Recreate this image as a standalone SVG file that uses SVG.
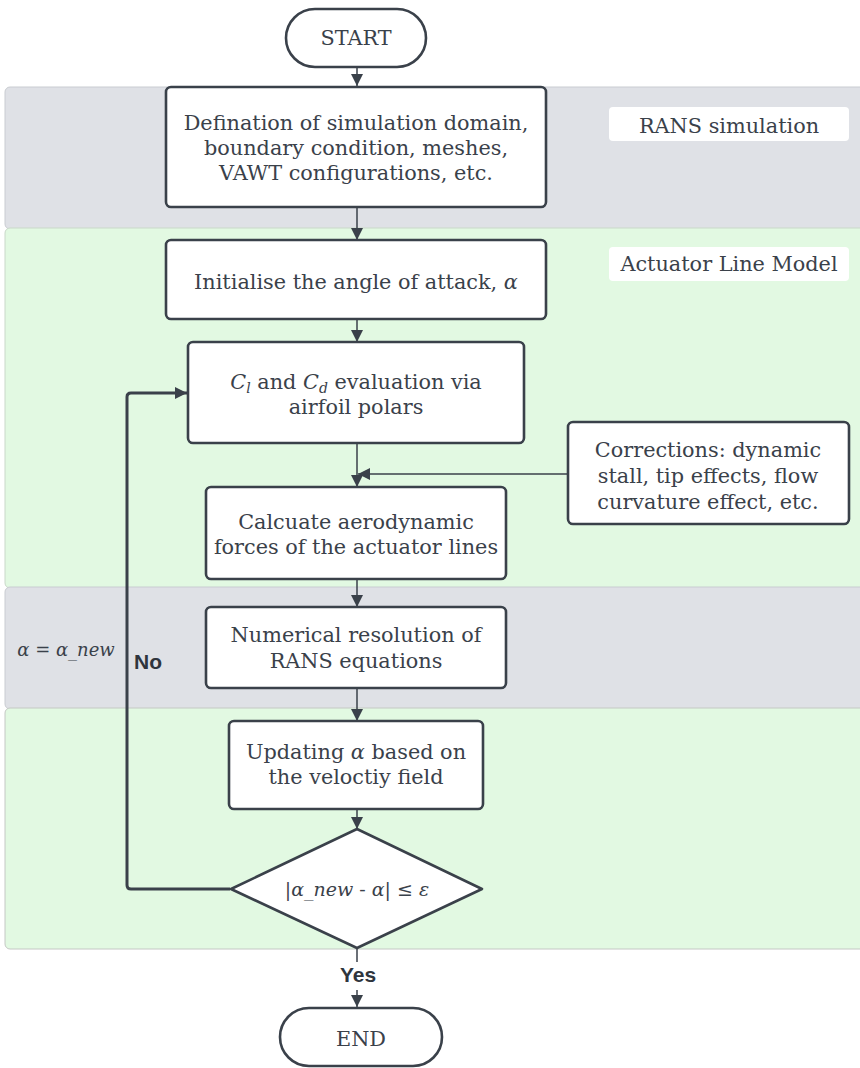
<svg xmlns="http://www.w3.org/2000/svg" width="860" height="1068" viewBox="0 0 860 1068">
<style>
.box{fill:#ffffff;stroke:#3a414a;stroke-width:2.6}
.t{font-family:"DejaVu Serif","Liberation Serif",serif;font-size:20.8px;fill:#3a414a;text-anchor:middle}
.i{font-style:italic}
.lbl{fill:#ffffff;stroke:none}
.c{fill:none;stroke:#3a414a;stroke-width:1.5}
.loop{fill:none;stroke:#3a414a;stroke-width:3;stroke-linejoin:round}
.b{font-family:"Liberation Sans",Arial,sans-serif;font-size:21px;font-weight:bold;fill:#2f353d;text-anchor:middle}
</style>
<defs>
<marker id="ah" markerUnits="userSpaceOnUse" markerWidth="12" markerHeight="14" viewBox="0 0 12 14" refX="12" refY="7" orient="auto">
<path d="M0,1 L12,7 L0,13 Z" fill="#3a414a"/>
</marker>
</defs>
<rect width="860" height="1068" fill="#ffffff"/>
<g id="lanes">
<rect x="5" y="87" width="862" height="142" rx="5" fill="#dfe1e6" stroke="#c9ccd1" stroke-width="1"/>
<rect x="5" y="228" width="862" height="360" rx="5" fill="#e2f9e2" stroke="#c9d8c9" stroke-width="1"/>
<rect x="5" y="587" width="862" height="122" rx="5" fill="#dfe1e6" stroke="#c9ccd1" stroke-width="1"/>
<rect x="5" y="708" width="862" height="241" rx="5" fill="#e2f9e2" stroke="#c4c8c4" stroke-width="1"/>
</g>
<g id="lane-labels">
<rect class="lbl" x="609" y="107" width="240" height="34" rx="4"/>
<text class="t" x="729" y="133">RANS simulation</text>
<rect class="lbl" x="609" y="247" width="240" height="34" rx="4"/>
<text class="t" x="729" y="271">Actuator Line Model</text>
</g>
<g id="connectors">
<line class="c" x1="357" y1="67" x2="357" y2="86" marker-end="url(#ah)"/>
<line class="c" x1="357" y1="207" x2="357" y2="240" marker-end="url(#ah)"/>
<line class="c" x1="357" y1="319" x2="357" y2="342" marker-end="url(#ah)"/>
<line class="c" x1="357" y1="443" x2="357" y2="487" marker-end="url(#ah)"/>
<line class="c" x1="568" y1="474" x2="358" y2="474" marker-end="url(#ah)"/>
<line class="c" x1="357" y1="579" x2="357" y2="607" marker-end="url(#ah)"/>
<line class="c" x1="357" y1="688" x2="357" y2="721" marker-end="url(#ah)"/>
<line class="c" x1="357" y1="809" x2="357" y2="829" marker-end="url(#ah)"/>
<line class="c" x1="357" y1="948" x2="357" y2="962"/>
<line class="c" x1="357" y1="990" x2="357" y2="1007" marker-end="url(#ah)"/>
<path class="loop" d="M230,889 L131,889 Q127,889 127,885 L127,397 Q127,393 131,393 L187,393" marker-end="url(#ah)"/>
<text class="b" x="358" y="982">Yes</text>
<text class="b" x="148" y="669">No</text>
<text class="t i" x="66" y="656" style="font-size:18px">α = α_new</text>
</g>
<g id="start">
<rect class="box" x="286" y="9" width="140" height="58" rx="29"/>
<text class="t" x="356" y="45">START</text>
</g>
<g id="define">
<rect class="box" x="166" y="87" width="380" height="120" rx="5"/>
<text class="t" x="356" y="130">Defination of simulation domain,</text>
<text class="t" x="356" y="155">boundary condition, meshes,</text>
<text class="t" x="356" y="180">VAWT configurations, etc.</text>
</g>
<g id="init">
<rect class="box" x="166" y="240" width="380" height="79" rx="5"/>
<text class="t" x="356" y="289">Initialise the angle of attack, <tspan class="i">α</tspan></text>
</g>
<g id="coeffs">
<rect class="box" x="188" y="342" width="336" height="101" rx="5"/>
<text class="t" x="356" y="389"><tspan class="i">C</tspan><tspan class="i" font-size="14" dy="4">l</tspan><tspan dy="-4"> and </tspan><tspan class="i">C</tspan><tspan class="i" font-size="14" dy="4">d</tspan><tspan dy="-4"> evaluation via</tspan></text>
<text class="t" x="356" y="414">airfoil polars</text>
</g>
<g id="corrections">
<rect class="box" x="568" y="422" width="281" height="102" rx="5"/>
<text class="t" x="708" y="457">Corrections: dynamic</text>
<text class="t" x="708" y="483">stall, tip effects, flow</text>
<text class="t" x="708" y="509">curvature effect, etc.</text>
</g>
<g id="forces">
<rect class="box" x="206" y="487" width="300" height="92" rx="5"/>
<text class="t" x="356" y="529">Calcuate aerodynamic</text>
<text class="t" x="356" y="554">forces of the actuator lines</text>
</g>
<g id="rans">
<rect class="box" x="206" y="607" width="300" height="81" rx="5"/>
<text class="t" x="356" y="642">Numerical resolution of</text>
<text class="t" x="356" y="668">RANS equations</text>
</g>
<g id="update">
<rect class="box" x="229" y="721" width="254" height="88" rx="5"/>
<text class="t" x="356" y="759">Updating <tspan class="i">α</tspan> based on</text>
<text class="t" x="356" y="784">the veloctiy field</text>
</g>
<g id="decision">
<path class="box" d="M357,829 L482,889 L357,948 L231,889 Z" stroke-linejoin="round"/>
<text class="t" x="357" y="896" style="font-size:19px"><tspan>|</tspan><tspan class="i">α_new</tspan><tspan> - </tspan><tspan class="i">α</tspan><tspan>| ≤ </tspan><tspan class="i">ε</tspan></text>
</g>
<g id="end">
<rect class="box" x="280" y="1008" width="162" height="58" rx="29"/>
<text class="t" x="361" y="1046">END</text>
</g>
</svg>
